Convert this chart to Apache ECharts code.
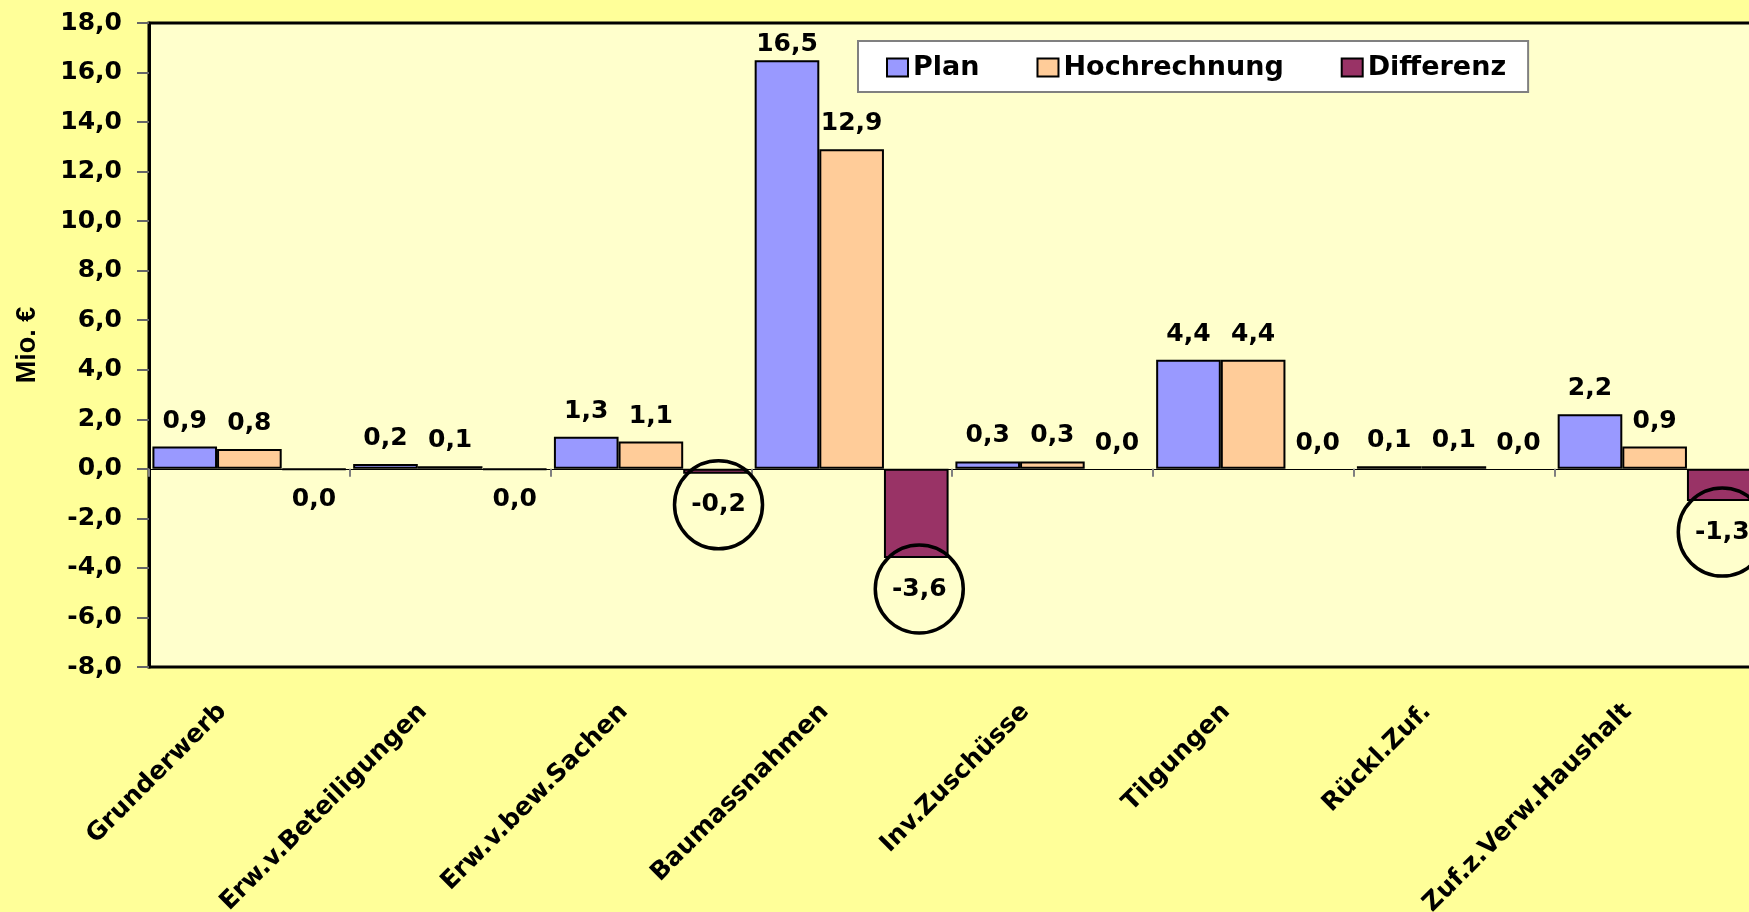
<!DOCTYPE html>
<html><head><meta charset="utf-8">
<script src="https://cdn.jsdelivr.net/npm/echarts@6/dist/echarts.min.js"></script>
<style>
html,body{margin:0;padding:0;background:#FFFF99;overflow:hidden;width:1749px;height:912px}
#chart{width:1760px;height:912px}
</style>
</head><body><div id="chart"></div>
<script>
// ---- data ----
const categories = ['Grunderwerb','Erw.v.Beteiligungen','Erw.v.bew.Sachen','Baumassnahmen','Inv.Zuschüsse','Tilgungen','Rückl.Zuf.','Zuf.z.Verw.Haushalt'];
const seriesNames = ['Plan','Hochrechnung','Differenz'];
const planValues = [0.9, 0.2, 1.3, 16.5, 0.3, 4.4, 0.1, 2.2];
const hochrechnungValues = [0.8, 0.1, 1.1, 12.9, 0.3, 4.4, 0.1, 0.9];
const differenzValues = [-0.04, -0.04, -0.2, -3.6, 0.0, 0.0, 0.0, -1.3];
const yMin = -8, yMax = 18, yStep = 2;

// ---- styling ----
const FONT = 'DejaVu Sans';
const colors = ['#9999FF', '#FFCC99', '#993366'];
const PLOT_H = 644;
function fmt(v){ return (Math.round(v*10)/10).toFixed(1).replace('.', ','); }

const circleLabel = {
  position: 'bottom', distance: -13, offset: [3, 0],
  width: 88, height: 88, lineHeight: 88,
  borderRadius: 47, borderColor: '#000', borderWidth: 3.5,
  align: 'center'
};

function buildData(values){
  const pxPerUnit = PLOT_H / (yMax - yMin);
  return values.map(v => {
    const item = { value: v };
    if (v === 0) item.itemStyle = { borderWidth: 0 };
    if (v < 0) item.label = (v <= -0.15) ? circleLabel : { position: 'bottom', distance: 17 };
    else if ((yMax - v) * pxPerUnit < 45) item.label = { distance: 3 }; // keep label inside plot area
    return item;
  });
}

const seriesValues = [planValues, hochrechnungValues, differenzValues];

const chart = echarts.init(document.getElementById('chart'), null, {renderer: 'canvas'});
chart.setOption({
  backgroundColor: '#FFFF99',
  animation: false,
  color: colors,
  grid: {
    left: 149, top: 23, width: 1606, height: PLOT_H,
    show: true, backgroundColor: '#FFFFCC', borderColor: '#000', borderWidth: 3,
    outerBoundsMode: 'none',
    containLabel: false
  },
  legend: {
    left: 858, top: 41,
    backgroundColor: '#FFFFFF', borderColor: '#808080', borderWidth: 2,
    padding: [13, 22, 11, 28],
    itemGap: 57, itemWidth: 21, itemHeight: 18,
    icon: 'rect',
    itemStyle: { borderColor: '#000', borderWidth: 2 },
    textStyle: { fontFamily: FONT, fontWeight: 'bold', fontSize: 27, color: '#000' },
    data: seriesNames
  },
  xAxis: [
    {
      type: 'category', data: categories,
      axisLine: { show: true, onZero: true, lineStyle: { color: '#000', width: 1 } },
      axisTick: { show: true, length: 8, lineStyle: { color: '#808080', width: 2 } },
      axisLabel: { show: false },
      splitLine: { show: false }
    },
    {
      type: 'category', data: categories, position: 'bottom',
      axisLine: { show: false, onZero: false },
      axisTick: { show: false },
      axisLabel: {
        show: true, interval: 0, rotate: 45, margin: 14,
        padding: [0, 38, 0, 0],
        fontFamily: FONT, fontWeight: 'bold', fontSize: 25, color: '#000'
      },
      splitLine: { show: false }
    }
  ],
  yAxis: {
    type: 'value', min: yMin, max: yMax, interval: yStep,
    name: 'Mio. €', nameLocation: 'middle', nameRotate: 90, nameGap: 108,
    nameTextStyle: { fontFamily: 'Liberation Sans', fontWeight: 'bold', fontSize: 27, color: '#000' },
    axisLine: { show: true, lineStyle: { color: '#000', width: 3 } },
    axisTick: { show: true, length: 12, lineStyle: { color: '#666', width: 2 } },
    axisLabel: {
      margin: 27, formatter: v => fmt(v),
      fontFamily: FONT, fontWeight: 'bold', fontSize: 25, color: '#000'
    },
    splitLine: { show: false }
  },
  series: seriesNames.map((name, i) => ({
    name, type: 'bar', xAxisIndex: 0,
    barGap: '0%', barCategoryGap: '3.4%',
    itemStyle: { color: colors[i], borderColor: '#000', borderWidth: 2 },
    label: {
      show: true, position: 'top', distance: 13,
      formatter: p => fmt(p.value),
      fontFamily: FONT, fontWeight: 'bold', fontSize: 25, color: '#000'
    },
    data: buildData(seriesValues[i])
  }))
});
</script></body></html>
